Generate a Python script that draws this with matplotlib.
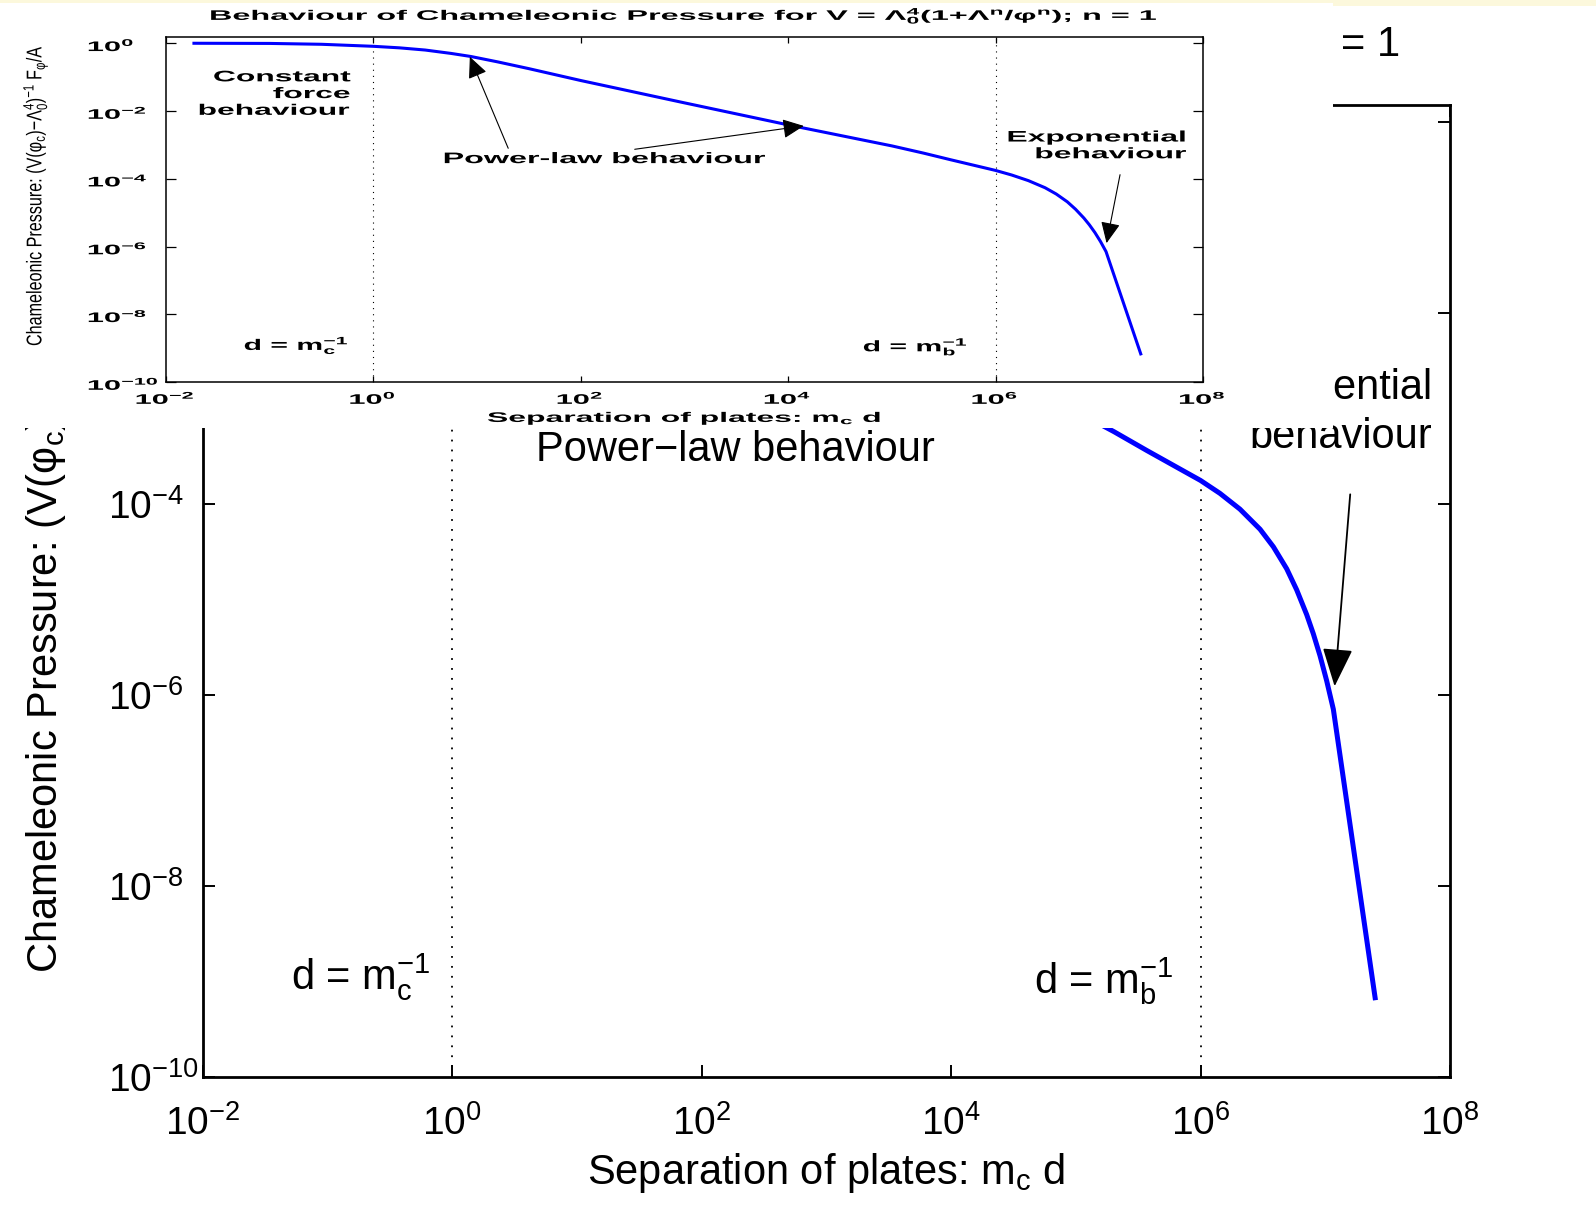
import numpy as np
import matplotlib
matplotlib.use("Agg")
import matplotlib.pyplot as plt
from matplotlib.patches import Rectangle
from matplotlib.ticker import FixedLocator, FuncFormatter, NullLocator
from matplotlib.patheffects import AbstractPathEffect
from matplotlib.transforms import Affine2D

# ---------------- data ----------------
separation = [0.0186, 0.1, 0.316, 1.0, 1.78, 3.16, 5.62, 8.71, 15.8, 31.6, 100.0,
              1.0e3, 1.0e4, 1.0e5, 2.02e5, 3.70e5, 6.84e5, 1.0e6, 1.43e6, 2.07e6,
              3.00e6, 3.84e6, 4.91e6, 5.90e6, 7.10e6, 8.02e6, 9.08e6, 1.026e7,
              1.161e7, 2.51e7]
pressure = [1.0, 0.989, 0.933, 0.813, 0.733, 0.631, 0.501, 0.407, 0.282, 0.178, 0.0794,
            0.0174, 3.89e-3, 9.33e-4, 5.71e-4, 3.63e-4, 2.32e-4, 1.76e-4, 1.29e-4, 8.81e-5,
            5.43e-5, 3.55e-5, 2.09e-5, 1.26e-5, 6.92e-6, 4.37e-6, 2.57e-6, 1.41e-6,
            7.08e-7, 6.76e-10]
x_tick_values = [1e-2, 1e0, 1e2, 1e4, 1e6, 1e8]
y_tick_values = [1e-10, 1e-8, 1e-6, 1e-4, 1e-2, 1e0]
length_scales = [1.0, 1.0e6]          # d = 1/m_c  and  d = 1/m_b

title_text = r"Behaviour of Chameleonic Pressure for V = $\Lambda_0^4$(1+$\Lambda^n$/$\varphi^n$); n = 1"
ylabel_text = r"Chameleonic Pressure: (V($\varphi_c$)$-\Lambda_0^4$)$^{-1}$ F$_\varphi$/A"
xlabel_text = r"Separation of plates: m$_c$ d"

plt.rcParams.update({
    'font.family': ['Liberation Sans', 'DejaVu Sans'],
    'mathtext.fontset': 'custom',
    'mathtext.rm': 'Liberation Sans',
    'mathtext.it': 'Liberation Sans:italic',
    'mathtext.bf': 'Liberation Sans:bold',
    'mathtext.default': 'regular',
    'mathtext.fallback': 'stixsans',
})

W, H = 1596, 1207
fig = plt.figure(figsize=(W / 100, H / 100), dpi=100)
fig.patch.set_facecolor('white')


def fx(px):
    return px / W


def fy(py):
    return 1.0 - py / H


class Stretch(AbstractPathEffect):
    """Scale the drawn glyphs about the text anchor (text stays a Text artist)."""

    def __init__(self, text, sx=1.0, sy=1.0):
        super().__init__()
        self._text = text
        self.sx = sx
        self.sy = sy

    def draw_path(self, renderer, gc, tpath, affine, rgbFace=None):
        t = self._text
        px, py = t.get_transform().transform(t.get_unitless_position())
        extra = Affine2D().translate(-px, -py).scale(self.sx, self.sy).translate(px, py)
        renderer.draw_path(gc, tpath, affine + extra, rgbFace)


def exp_label(v, pos):
    return r'$10^{%d}$' % int(round(np.log10(v)))


def setup_axes(a, spine_lw, len_x, len_y, tick_w, labelsize, xpad, ypad, yfmt):
    a.set_xscale('log')
    a.set_yscale('log')
    a.set_xlim(1e-2, 1e8)
    a.set_ylim(1e-10, 1.5)
    a.xaxis.set_major_locator(FixedLocator(x_tick_values))
    a.yaxis.set_major_locator(FixedLocator(y_tick_values))
    a.xaxis.set_minor_locator(NullLocator())
    a.yaxis.set_minor_locator(NullLocator())
    a.xaxis.set_major_formatter(FuncFormatter(exp_label))
    a.yaxis.set_major_formatter(FuncFormatter(yfmt))
    a.tick_params(axis='both', which='major', direction='in', top=True, right=True,
                  width=tick_w, labelsize=labelsize, colors='k')
    a.tick_params(axis='x', length=len_x, pad=xpad)
    a.tick_params(axis='y', length=len_y, pad=ypad)
    for lab in a.get_yticklabels():
        lab.set_horizontalalignment('left')
    for s in a.spines.values():
        s.set_linewidth(spine_lw)
    a.patch.set_facecolor('white')


def arrow(a, tail, tip, hl, hw, lw):
    a.annotate('', xy=tip, xytext=tail,
               arrowprops=dict(arrowstyle=f'-|>,head_length={hl},head_width={hw}',
                               mutation_scale=10, lw=lw, color='k',
                               shrinkA=0, shrinkB=0))


BLUE = '#0000ff'

# ---------------- big (background) figure ----------------
ax = fig.add_axes([fx(202.6), fy(1077), (1450 - 202.6) / W, (1077 - 105) / H])
# labels of the ticks that lie under the pasted copy are not visible in the reference
setup_axes(ax, 2.0, 8.6, 8.6, 1.4, 28, 20, 68,
           lambda v, p: exp_label(v, p) if v < 1e-3 else '')
for d in length_scales:
    ax.axvline(d, color='k', lw=1.3, ls=(0, (1, 4.5)), zorder=1)
ax.plot(separation, pressure, color=BLUE, lw=3.6, zorder=3, solid_joinstyle='round')

BIG = 30
ax.text(10 ** 2.27, 10 ** -3.44, 'Power\u2212law behaviour', ha='center', va='center', fontsize=BIG)
ax.text(10 ** 7.86, 10 ** -3.04, 'Exponential\nbehaviour', ha='right', va='center',
        fontsize=BIG, linespacing=1.28)
ax.text(10 ** -0.17, 10 ** -8.95, r'd = m$_c^{-1}$', ha='right', va='center', fontsize=BIG)
ax.text(10 ** 5.78, 10 ** -9.0, r'd = m$_b^{-1}$', ha='right', va='center', fontsize=BIG)
arrow(ax, (10 ** 7.20, 10 ** -3.90), (10 ** 7.075, 10 ** -5.91), 2.4, 0.95, 1.3)

fig.text(fx(1400), fy(57), title_text, ha='right', va='baseline', fontsize=BIG, zorder=3)
fig.text(fx(826), fy(1184), xlabel_text, ha='center', va='baseline', fontsize=BIG, zorder=3)
fig.text(fx(46), fy(973), ylabel_text, rotation=90, ha='center', va='bottom', fontsize=BIG, zorder=3)

# ---------------- pasted small copy on top ----------------
fig.add_artist(Rectangle((0, fy(6)), 1, 6 / H, transform=fig.transFigure,
                         facecolor='#fcf8dc', edgecolor='none', zorder=4))
fig.add_artist(Rectangle((0, fy(428)), 1333 / W, (428 - 3) / H, transform=fig.transFigure,
                         facecolor='white', edgecolor='none', zorder=5))

ia = fig.add_axes([fx(166), fy(382), (1203 - 166) / W, (382 - 37.3) / H])
ia.set_zorder(10)
setup_axes(ia, 1.1, 4.5, 7.5, 0.9, 10, 4.5, 57, exp_label)
for d in length_scales:
    ia.axvline(d, color='k', lw=0.8, ls=(0, (1, 4.5)), zorder=1)
ia.plot(separation, pressure, color=BLUE, lw=2.2, zorder=3, solid_joinstyle='round')

SM = dict(fontsize=11, fontweight='bold')
t1 = ia.text(10 ** -0.22, 10 ** -1.5, 'Constant\nforce\nbehaviour', ha='right', va='center',
             linespacing=1.25, **SM)
t2 = ia.text(10 ** 2.23, 10 ** -3.42, 'Power-law behaviour', ha='center', va='center', **SM)
t3 = ia.text(10 ** 7.85, 10 ** -3.03, 'Exponential\nbehaviour', ha='right', va='center',
             linespacing=1.25, **SM)
t4 = ia.text(10 ** -0.22, 10 ** -8.93, r'd = m$_c^{-1}$', ha='right', va='center', **SM)
t5 = ia.text(10 ** 5.75, 10 ** -8.97, r'd = m$_b^{-1}$', ha='right', va='center', **SM)
arrow(ia, (10 ** 1.30, 10 ** -3.10), (10 ** 0.93, 10 ** -0.40), 1.3, 0.6, 0.8)
arrow(ia, (10 ** 2.52, 10 ** -3.13), (10 ** 4.15, 10 ** -2.44), 1.3, 0.6, 0.8)
arrow(ia, (10 ** 7.20, 10 ** -3.88), (10 ** 7.07, 10 ** -5.90), 1.3, 0.6, 0.8)

it = fig.text(fx(684.5), fy(20), title_text, ha='center', va='baseline', fontsize=10,
              fontweight='bold', zorder=11)
ixl = fig.text(fx(685.5), fy(422), xlabel_text, ha='center', va='baseline', fontsize=10,
               fontweight='bold', zorder=11)
iyl = fig.text(fx(35), fy(196), ylabel_text, rotation=90, ha='center', va='center',
               fontsize=10, zorder=11)

fig.canvas.draw()
r = fig.canvas.get_renderer()

# size the small copy's rotated label so that its natural length is the target
bb = iyl.get_window_extent(r)
iyl.set_fontsize(10 * 300.0 / bb.height)
fig.canvas.draw()


def fit(t, target_w=None, target_h=None):
    bb = t.get_window_extent(r)
    sx = target_w / bb.width if target_w else 1.0
    sy = target_h / bb.height if target_h else 1.0
    t.set_path_effects([Stretch(t, sx=sx, sy=sy)])


fit(it, 951)
fit(ixl, 397)
fit(iyl, 31, 300)
fit(t1, 153)
fit(t2, 324)
fit(t3, 181)
fit(t4, 107)
fit(t5, 107)

labs = list(ia.xaxis.get_ticklabels()) + list(ia.yaxis.get_ticklabels())
for lab in labs:
    lab.set_fontweight('bold')
fig.canvas.draw()
ref = [l for l in ia.yaxis.get_ticklabels() if l.get_text() == r'$10^{0}$']
sx = 50.0 / ref[0].get_window_extent(r).width if ref else 1.8
for lab in labs:
    lab.set_path_effects([Stretch(lab, sx=sx)])

fig.savefig('out.png', dpi=100)
